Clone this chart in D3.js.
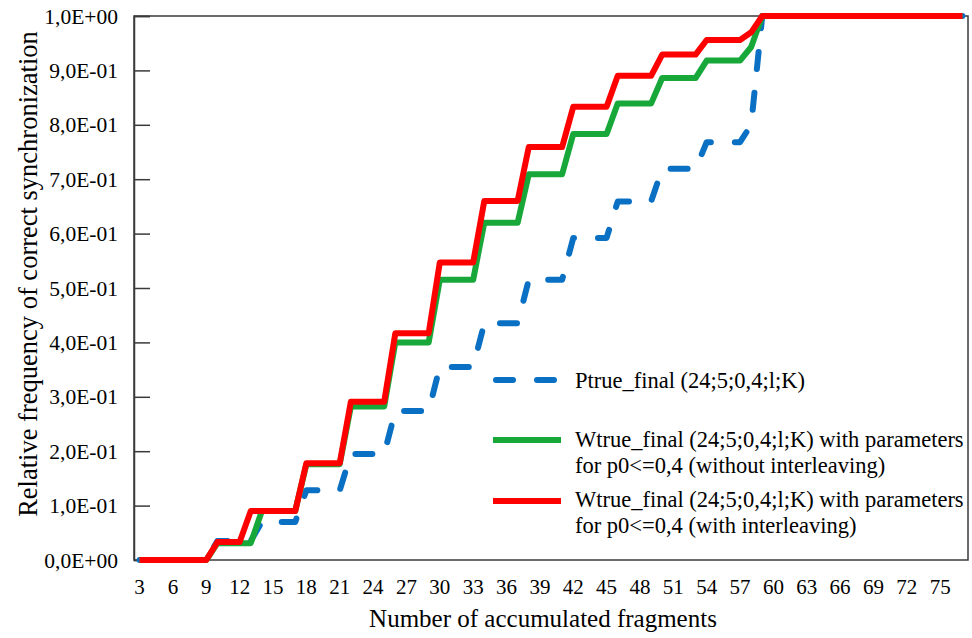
<!DOCTYPE html>
<html>
<head>
<meta charset="utf-8">
<script src="https://cdn.jsdelivr.net/npm/d3@7"></script>
<style>
  body { margin: 0; background: #fff; }
</style>
</head>
<body>
<div id="chart"></div>
<script>
var margin = { top: 16, right: 4, bottom: 78, left: 134 };
var width = 972, height = 638;
var serif = "'Liberation Serif', 'Times New Roman', Tinos, 'DejaVu Serif', serif";

// categories on the x axis (number of accumulated fragments)
var categories = [3, 4, 5, 6, 7, 8, 9, 10, 11, 12, 13, 14, 15, 16, 17, 18, 19, 20, 21, 22,
  23, 24, 25, 26, 27, 28, 29, 30, 31, 32, 33, 34, 35, 36, 37, 38, 39, 40, 41, 42,
  43, 44, 45, 46, 47, 48, 49, 50, 51, 52, 53, 54, 55, 56, 57, 58, 59, 60, 61, 62,
  63, 64, 65, 66, 67, 68, 69, 70, 71, 72, 73, 74, 75, 76, 77];
var xTickValues = [3, 6, 9, 12, 15, 18, 21, 24, 27, 30, 33, 36, 39, 42, 45, 48, 51, 54, 57, 60, 63, 66, 69, 72, 75];
var yTickValues = [0, 0.1, 0.2, 0.3, 0.4, 0.5, 0.6, 0.7, 0.8, 0.9, 1.0];
var yTickLabels = ["0,0E+00", "1,0E-01", "2,0E-01", "3,0E-01", "4,0E-01", "5,0E-01",
  "6,0E-01", "7,0E-01", "8,0E-01", "9,0E-01", "1,0E+00"];

// Ptrue_final (24;5;0,4;l;K)
var ptrue = [0, 0, 0, 0, 0, 0, 0,
  0.035, 0.035, 0.035, 0.035,
  0.07, 0.07, 0.07, 0.07,
  0.128, 0.128, 0.128, 0.128,
  0.195, 0.195, 0.195, 0.195,
  0.274, 0.274, 0.274, 0.274,
  0.355, 0.355, 0.355, 0.355,
  0.435, 0.435, 0.435, 0.435,
  0.515, 0.515, 0.515, 0.515,
  0.592, 0.592, 0.592, 0.592,
  0.659, 0.659, 0.659, 0.659,
  0.719, 0.719, 0.719, 0.719,
  0.768, 0.768, 0.768, 0.768,
  0.80,
  1, 1, 1, 1, 1, 1, 1, 1, 1, 1, 1, 1, 1, 1, 1, 1, 1, 1, 1];

// Wtrue_final, without interleaving
var wtrueNoInt = [0, 0, 0, 0, 0, 0, 0,
  0.031, 0.031, 0.031, 0.031,
  0.09, 0.09, 0.09, 0.09,
  0.176, 0.176, 0.176, 0.176,
  0.282, 0.282, 0.282, 0.282,
  0.40, 0.40, 0.40, 0.40,
  0.515, 0.515, 0.515, 0.515,
  0.62, 0.62, 0.62, 0.62,
  0.709, 0.709, 0.709, 0.709,
  0.783, 0.783, 0.783, 0.783,
  0.839, 0.839, 0.839, 0.839,
  0.886, 0.886, 0.886, 0.886,
  0.918, 0.918, 0.918, 0.918,
  0.943,
  1, 1, 1, 1, 1, 1, 1, 1, 1, 1, 1, 1, 1, 1, 1, 1, 1, 1, 1];

// Wtrue_final, with interleaving
var wtrueInt = [0, 0, 0, 0, 0, 0, 0,
  0.033, 0.033, 0.033,
  0.09, 0.09, 0.09, 0.09, 0.09,
  0.178, 0.178, 0.178, 0.178,
  0.291, 0.291, 0.291, 0.291,
  0.417, 0.417, 0.417, 0.417,
  0.547, 0.547, 0.547, 0.547,
  0.66, 0.66, 0.66, 0.66,
  0.759, 0.759, 0.759, 0.759,
  0.833, 0.833, 0.833, 0.833,
  0.89, 0.89, 0.89, 0.89,
  0.929, 0.929, 0.929, 0.929,
  0.956, 0.956, 0.956, 0.956,
  0.97,
  1, 1, 1, 1, 1, 1, 1, 1, 1, 1, 1, 1, 1, 1, 1, 1, 1, 1, 1];

var series = [
  { lines: ["Ptrue_final (24;5;0,4;l;K)"], values: ptrue, color: "#0a70c4", dash: "17,24" },
  { lines: ["Wtrue_final (24;5;0,4;l;K) with parameters", "for p0<=0,4 (without interleaving)"], values: wtrueNoInt, color: "#18a83a", dash: null },
  { lines: ["Wtrue_final (24;5;0,4;l;K) with parameters", "for p0<=0,4 (with interleaving)"], values: wtrueInt, color: "#ff0000", dash: null }
];

var svg = d3.select("#chart").append("svg")
  .attr("width", width)
  .attr("height", height)
  .attr("font-family", serif);

var x = d3.scaleBand()
  .domain(categories)
  .range([margin.left, width - margin.right])
  .padding(0);

var y = d3.scaleLinear()
  .domain([0, 1])
  .range([height - margin.bottom, margin.top]);

var cx = function(c) { return x(c) + x.bandwidth() / 2; };

// frame
svg.append("rect")
  .attr("x", margin.left)
  .attr("y", margin.top)
  .attr("width", width - margin.right - margin.left)
  .attr("height", height - margin.bottom - margin.top)
  .attr("fill", "none")
  .attr("stroke", "#3a3a3a")
  .attr("stroke-width", 1.5);

// y axis: ticks inside, labels left
var yAxis = d3.axisRight(y)
  .tickValues(yTickValues)
  .tickSize(16)
  .tickFormat("");
var gy = svg.append("g")
  .attr("transform", "translate(" + margin.left + ",0)")
  .call(yAxis);
gy.select(".domain").attr("stroke", "#3a3a3a").attr("stroke-width", 1.5);
gy.selectAll(".tick line").attr("stroke", "#3a3a3a").attr("stroke-width", 1.5);

svg.selectAll(".ylab")
  .data(yTickValues)
  .enter().append("text")
  .attr("class", "ylab")
  .attr("x", 118)
  .attr("y", function(d) { return y(d); })
  .attr("dy", "0.35em")
  .attr("font-family", serif)
  .style("text-anchor", "end")
  .style("font-size", "21.5px")
  .text(function(d, i) { return yTickLabels[i]; });

// x axis labels only
svg.selectAll(".xlab")
  .data(xTickValues)
  .enter().append("text")
  .attr("class", "xlab")
  .attr("x", function(d) { return cx(d); })
  .attr("y", 594)
  .attr("font-family", serif)
  .style("text-anchor", "middle")
  .style("font-size", "21px")
  .text(function(d) { return d; });

// axis titles
svg.append("text")
  .attr("x", 543)
  .attr("y", 627)
  .attr("font-family", serif)
  .style("text-anchor", "middle")
  .style("font-size", "25px")
  .text("Number of accumulated fragments");

svg.append("text")
  .attr("transform", "translate(37," + 274 + ")rotate(-90)")
  .attr("font-family", serif)
  .style("text-anchor", "middle")
  .style("font-size", "26.5px")
  .text("Relative frequency of correct synchronization");

// lines
var line = d3.line()
  .x(function(d, i) { return cx(categories[i]); })
  .y(function(d) { return y(d); });

series.forEach(function(s) {
  svg.append("path")
    .datum(s.values)
    .attr("d", line)
    .attr("fill", "none")
    .attr("stroke", s.color)
    .attr("stroke-width", 6)
    .attr("stroke-linejoin", "round")
    .attr("stroke-linecap", s.dash ? "round" : "butt")
    .attr("stroke-dasharray", s.dash);
});

// legend
var legendRows = [
  { lineY: 380, textY: [388] },
  { lineY: 440, textY: [447, 473] },
  { lineY: 501, textY: [507, 533] }
];

series.forEach(function(s, i) {
  var r = legendRows[i];
  svg.append("line")
    .attr("x1", s.dash ? 496 : 493)
    .attr("x2", s.dash ? 555 : 561)
    .attr("y1", r.lineY)
    .attr("y2", r.lineY)
    .attr("stroke", s.color)
    .attr("stroke-width", 6)
    .attr("stroke-linecap", s.dash ? "round" : "butt")
    .attr("stroke-dasharray", s.dash);
  s.lines.forEach(function(t, j) {
    svg.append("text")
      .attr("x", 575)
      .attr("y", r.textY[j])
      .attr("font-family", serif)
      .style("font-size", "22.5px")
      .text(t);
  });
});
</script>
</body>
</html>
